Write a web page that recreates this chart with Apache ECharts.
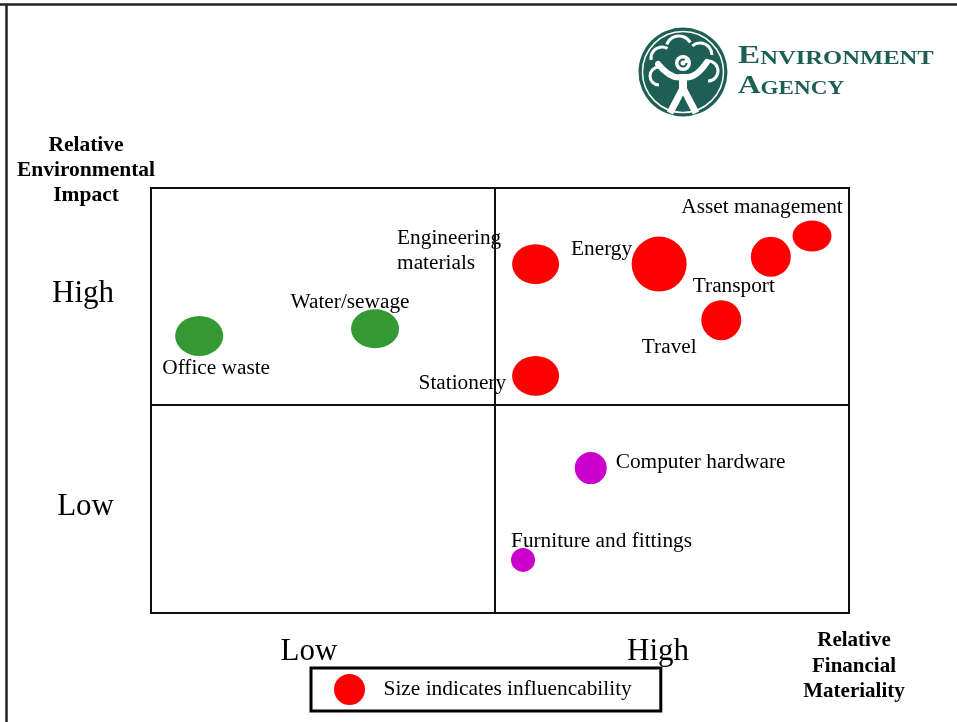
<!DOCTYPE html>
<html>
<head>
<meta charset="utf-8">
<title>Environment Agency – impact vs materiality</title>
<script src="https://cdn.jsdelivr.net/npm/echarts@6/dist/echarts.min.js"></script>
<style>
  html, body { margin: 0; padding: 0; background: #fff; }
  #chart { width: 957px; height: 722px; }
</style>
</head>
<body>
<div id="chart"></div>
<script>
// chart data
const categories = ['Office waste', 'Water/sewage', 'Engineering\nmaterials', 'Stationery', 'Energy',
  'Transport', 'Asset management', 'Travel', 'Computer hardware', 'Furniture and fittings']
const financial = [6.9, 32.1, 55.1, 55.1, 72.8, 88.8, 94.7, 81.7, 63.0, 53.3]
const environmental = [65.2, 66.9, 82.1, 55.8, 82.1, 83.8, 88.7, 68.9, 34.1, 12.5]
const influence = [48, 48, 47, 47, 55, 40, 39, 40, 32, 24]
const groups = ['low', 'low', 'high', 'high', 'high', 'high', 'high', 'high', 'mid', 'mid']
const levelValues = [25, 75]
const levelLabels = ['Low', 'High']
const dividers = { financial: 49.3, environmental: 48.9 }
const legendName = 'Size indicates influencability'

// styles / layout
const FONT = "'Liberation Serif', 'Times New Roman', serif"
const groupColor = { low: '#339933', high: '#ff0000', mid: '#cc00cc' }
const aspect = [1.2, 1.23, 1.18, 1.18, 1, 1, 1.26, 1, 1, 1]
const labelLayout = [
  { align: 'center', offset: [17, 32] },
  { align: 'center', offset: [-25, -26] },
  { align: 'left', offset: [-138.5, -13.5] },
  { align: 'right', offset: [-29.5, 8] },
  { align: 'right', offset: [-27, -15] },
  { align: 'center', offset: [-37, 30] },
  { align: 'center', offset: [-50, -29] },
  { align: 'center', offset: [-52, 27] },
  { align: 'left', offset: [25, -6] },
  { align: 'left', offset: [-12, -18] }
]
const TEAL = '#1d5e55'
const deg = d => d * Math.PI / 180

const levelText = v => {
  const i = levelValues.indexOf(v)
  return i >= 0 ? levelLabels[i] : ''
}

// canopy lumps of the logo tree: [cx, cy, r, from, to]
const lumps = [
  [-24, 4, 9, 90, 270],
  [-21, -14, 11, 170, 300],
  [-4, -23, 13, 200, 330],
  [17, -17, 12, 230, 360],
  [25, -1, 10, 270, 450]
]

const chart = echarts.init(document.getElementById('chart'), null, { renderer: 'canvas' })

const option = {
  backgroundColor: '#fff',
  animation: false,
  textStyle: { fontFamily: FONT, color: '#000' },
  grid: {
    left: 151, right: 108, top: 188, bottom: 109,
    show: true, borderColor: '#111', borderWidth: 2,
    outerBoundsMode: 'none'
  },
  legend: {
    data: [legendName],
    left: 311, top: 668,
    icon: 'circle',
    itemWidth: 32, itemHeight: 31,
    padding: [6, 29, 6, 23],
    borderColor: '#000', borderWidth: 3,
    selectedMode: false,
    textStyle: { fontFamily: FONT, fontSize: 21.4, color: '#000', padding: [0, 0, 0, 13] }
  },
  xAxis: {
    type: 'value', min: 0, max: 100, interval: 25,
    name: 'Relative\nFinancial\nMateriality',
    nameLocation: 'end', nameGap: 5,
    nameTextStyle: {
      fontFamily: FONT, fontSize: 21, fontWeight: 'bold', color: '#000',
      lineHeight: 25.5, align: 'center', verticalAlign: 'top', padding: [15, 0, 0, 0]
    },
    axisLine: { show: false }, axisTick: { show: false }, splitLine: { show: false },
    axisLabel: {
      formatter: levelText, fontFamily: FONT, fontSize: 31, color: '#000',
      margin: 23, padding: [0, 33, 0, 0]
    }
  },
  yAxis: {
    type: 'value', min: 0, max: 100, interval: 25,
    name: 'Relative\nEnvironmental\nImpact',
    nameLocation: 'end', nameGap: 18,
    nameTextStyle: {
      fontFamily: FONT, fontSize: 21.5, fontWeight: 'bold', color: '#000',
      lineHeight: 25, align: 'center', verticalAlign: 'middle', padding: [0, 130, 0, 0]
    },
    axisLine: { show: false }, axisTick: { show: false }, splitLine: { show: false },
    axisLabel: { formatter: levelText, fontFamily: FONT, fontSize: 31, color: '#000', margin: 37, padding: [6, 0, 0, 0] }
  },
  series: [{
    name: legendName,
    type: 'scatter',
    symbol: 'path://M50,0 A50,50 0 1,1 50,100 A50,50 0 1,1 50,0 Z',
    itemStyle: { color: groupColor.high, opacity: 1 },
    emphasis: { disabled: true },
    data: categories.map((name, i) => ({
      name,
      value: [financial[i], environmental[i]],
      symbolSize: [influence[i], influence[i] / aspect[i]],
      itemStyle: { color: groupColor[groups[i]] },
      label: {
        show: true, position: 'inside', formatter: '{b}',
        align: labelLayout[i].align, verticalAlign: 'middle',
        offset: labelLayout[i].offset,
        fontFamily: FONT, fontSize: 21.3, color: '#000', lineHeight: 25
      }
    })),
    markLine: {
      silent: true, symbol: 'none', animation: false,
      label: { show: false },
      lineStyle: { color: '#111', width: 2, type: 'solid' },
      data: [{ xAxis: dividers.financial }, { yAxis: dividers.environmental }]
    }
  }],
  graphic: [
    // page frame (top and left rules)
    { type: 'line', shape: { x1: 0, y1: 4.5, x2: 957, y2: 4.5 }, style: { stroke: '#222', lineWidth: 2.5 } },
    { type: 'line', shape: { x1: 6.5, y1: 4, x2: 6.5, y2: 722 }, style: { stroke: '#222', lineWidth: 2.5 } },
    // Environment Agency logo
    {
      type: 'group', x: 683, y: 72,
      children: [
        { type: 'circle', shape: { cx: 0, cy: 0, r: 44.5 }, style: { fill: TEAL } },
        { type: 'circle', shape: { cx: 0, cy: 0, r: 40.5 }, style: { fill: 'none', stroke: '#fff', lineWidth: 1.5 } },
        ...lumps.map(l => ({
          type: 'arc',
          shape: { cx: l[0], cy: l[1], r: l[2], startAngle: deg(l[3]), endAngle: deg(l[4]), clockwise: true },
          style: { fill: 'none', stroke: '#fff', lineWidth: 3 }
        })),
        {
          type: 'bezierCurve',
          shape: { x1: -25, y1: -8, x2: 0, y2: 5, cpx1: -12, cpy1: 8 },
          style: { fill: 'none', stroke: '#fff', lineWidth: 6, lineCap: 'round' }
        },
        {
          type: 'bezierCurve',
          shape: { x1: 0, y1: 5, x2: 24, y2: -10, cpx1: 12, cpy1: 8 },
          style: { fill: 'none', stroke: '#fff', lineWidth: 6, lineCap: 'round' }
        },
        { type: 'rect', shape: { x: -4, y: 2, width: 8, height: 18 }, style: { fill: '#fff' } },
        {
          type: 'polyline',
          shape: { points: [[-13, 41], [0, 16], [13, 41]] },
          style: { fill: 'none', stroke: '#fff', lineWidth: 7 }
        },
        { type: 'circle', shape: { cx: 0, cy: -9, r: 8 }, style: { fill: '#fff' } },
        {
          type: 'arc',
          shape: { cx: 0, cy: -9, r: 3.5, startAngle: deg(0), endAngle: deg(300), clockwise: true },
          style: { fill: 'none', stroke: TEAL, lineWidth: 2 }
        }
      ]
    },
    {
      type: 'text', x: 738, y: 69, scaleX: 1.33,
      style: {
        text: '{a|E}{b|NVIRONMENT}', textVerticalAlign: 'bottom',
        rich: {
          a: { fontFamily: FONT, fontWeight: 'bold', fontSize: 25, fill: TEAL, verticalAlign: 'bottom' },
          b: { fontFamily: FONT, fontWeight: 'bold', fontSize: 18.5, fill: TEAL, verticalAlign: 'bottom' }
        }
      }
    },
    {
      type: 'text', x: 738, y: 99, scaleX: 1.25,
      style: {
        text: '{a|A}{b|GENCY}', textVerticalAlign: 'bottom',
        rich: {
          a: { fontFamily: FONT, fontWeight: 'bold', fontSize: 25, fill: TEAL, verticalAlign: 'bottom' },
          b: { fontFamily: FONT, fontWeight: 'bold', fontSize: 18.5, fill: TEAL, verticalAlign: 'bottom' }
        }
      }
    }
  ]
}

chart.setOption(option)
window.addEventListener('resize', () => chart.resize())
</script>
</body>
</html>
